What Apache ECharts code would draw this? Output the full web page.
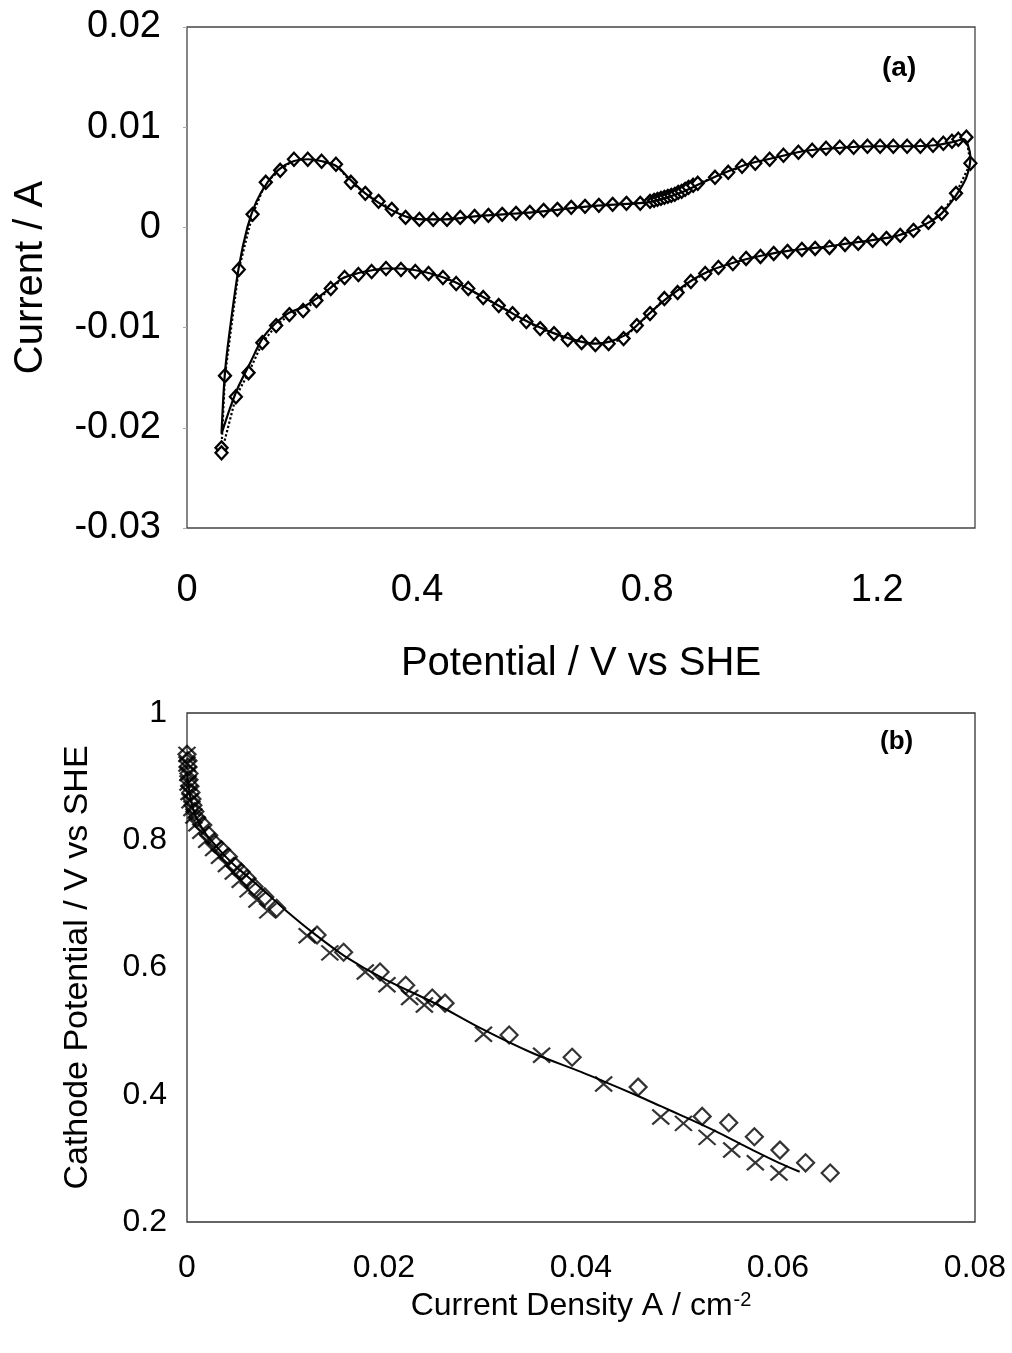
<!DOCTYPE html>
<html>
<head>
<meta charset="utf-8">
<script src="https://cdn.jsdelivr.net/npm/echarts@6/dist/echarts.min.js"></script>
<style>
html,body{margin:0;padding:0;background:#fff;}
#chart{width:1012px;height:1353px;}
</style>
</head>
<body>
<div id="chart"></div>
<script>
// ---------- Panel (a): cyclic voltammogram ----------
// Experimental points (diamonds, dotted line): [potential V, current A]
const cvExpPotential = [0.060,0.066,0.090,0.114,0.137,0.162,0.186,0.210,0.234,0.259,0.285,0.310,0.333,0.356,0.380,0.404,0.428,0.452,0.475,0.500,0.524,0.548,0.572,0.596,0.620,0.644,0.668,0.692,0.716,0.740,0.764,0.788,0.805,0.812,0.818,0.824,0.830,0.836,0.842,0.848,0.854,0.860,0.866,0.872,0.880,0.888,0.918,0.941,0.965,0.988,1.013,1.037,1.063,1.087,1.111,1.135,1.159,1.183,1.205,1.228,1.252,1.275,1.297,1.315,1.330,1.341,1.355,
  1.362,1.337,1.312,1.289,1.263,1.240,1.216,1.192,1.167,1.144,1.117,1.092,1.069,1.044,1.020,0.997,0.972,0.949,0.924,0.901,0.876,0.853,0.830,0.805,0.782,0.759,0.733,0.710,0.686,0.662,0.638,0.614,0.590,0.566,0.542,0.515,0.489,0.468,0.445,0.420,0.397,0.372,0.346,0.321,0.298,0.274,0.250,0.225,0.202,0.178,0.155,0.131,0.107,0.085,0.060];
const cvExpCurrent = [-0.0220,-0.0148,-0.0042,0.0013,0.0045,0.0057,0.0068,0.0068,0.0066,0.0063,0.0045,0.0034,0.0026,0.0018,0.0010,0.0008,0.0008,0.0008,0.0010,0.0011,0.0012,0.0013,0.0014,0.0015,0.0017,0.0018,0.0020,0.0021,0.0022,0.0023,0.0024,0.0024,0.0026,0.0027,0.0028,0.0029,0.0030,0.0031,0.0032,0.0033,0.0035,0.0036,0.0038,0.0040,0.0042,0.0044,0.0050,0.0055,0.0061,0.0064,0.0068,0.0072,0.0075,0.0077,0.0079,0.0080,0.0080,0.0081,0.0081,0.0081,0.0081,0.0081,0.0082,0.0084,0.0086,0.0088,0.0090,
  0.0064,0.0034,0.0014,0.0005,-0.0003,-0.0008,-0.0011,-0.0013,-0.0016,-0.0017,-0.0020,-0.0021,-0.0022,-0.0024,-0.0026,-0.0029,-0.0031,-0.0036,-0.0040,-0.0046,-0.0054,-0.0065,-0.0071,-0.0086,-0.0098,-0.0111,-0.0116,-0.0117,-0.0115,-0.0112,-0.0106,-0.0101,-0.0094,-0.0086,-0.0078,-0.0070,-0.0061,-0.0056,-0.0050,-0.0046,-0.0044,-0.0042,-0.0041,-0.0044,-0.0047,-0.0050,-0.0061,-0.0073,-0.0083,-0.0087,-0.0098,-0.0115,-0.0145,-0.0169,-0.0225];
// Model curve (solid line)
const cvModelPotential = [0.060,0.066,0.075,0.090,0.105,0.120,0.140,0.160,0.185,0.210,0.235,0.260,0.285,0.310,0.335,0.360,0.385,0.410,0.450,0.500,0.550,0.600,0.650,0.700,0.750,0.800,0.830,0.860,0.890,0.920,0.950,0.980,1.010,1.040,1.070,1.100,1.150,1.200,1.250,1.300,1.330,1.350,1.362,1.355,1.337,1.312,1.290,1.260,1.230,1.200,1.150,1.100,1.050,1.000,0.970,0.940,0.910,0.880,0.850,0.825,0.800,0.780,0.760,0.735,0.710,0.685,0.660,0.635,0.610,0.585,0.560,0.535,0.510,0.485,0.460,0.430,0.400,0.370,0.345,0.320,0.295,0.270,0.250,0.225,0.200,0.175,0.150,0.130,0.110,0.090,0.075,0.060];
const cvModelCurrent = [-0.0206,-0.0145,-0.0100,-0.0040,0.0000,0.0025,0.0045,0.0058,0.0066,0.0068,0.0066,0.0061,0.0047,0.0034,0.0024,0.0016,0.0010,0.0008,0.0008,0.0011,0.0013,0.0015,0.0018,0.0021,0.0023,0.0025,0.0029,0.0035,0.0043,0.0051,0.0058,0.0064,0.0068,0.0072,0.0076,0.0078,0.0080,0.0081,0.0081,0.0082,0.0085,0.0088,0.0070,0.0050,0.0032,0.0014,0.0005,-0.0003,-0.0009,-0.0012,-0.0016,-0.0020,-0.0023,-0.0028,-0.0032,-0.0037,-0.0043,-0.0052,-0.0064,-0.0075,-0.0088,-0.0099,-0.0108,-0.0114,-0.0116,-0.0114,-0.0110,-0.0105,-0.0099,-0.0092,-0.0084,-0.0076,-0.0068,-0.0060,-0.0053,-0.0047,-0.0043,-0.0041,-0.0041,-0.0043,-0.0046,-0.0051,-0.0060,-0.0071,-0.0080,-0.0086,-0.0098,-0.0112,-0.0135,-0.0158,-0.0180,-0.0206];
const cvXTicks = [0, 0.4, 0.8, 1.2];
const cvYTicks = [-0.03, -0.02, -0.01, 0, 0.01, 0.02];

// ---------- Panel (b): polarisation curve ----------
const polDiamondJ = [0.0000,0.0001,0.0001,0.0002,0.0002,0.0003,0.0004,0.0005,0.0006,0.0008,0.0010,0.0016,0.0022,0.0028,0.0035,0.0042,0.0049,0.0055,0.0061,0.0068,0.0079,0.0091,0.0132,0.0159,0.0196,0.0222,0.0249,0.0262,0.0327,0.0391,0.0458,0.0523,0.0550,0.0576,0.0602,0.0628,0.0653];
const polDiamondE = [0.935,0.925,0.915,0.905,0.895,0.885,0.875,0.865,0.855,0.845,0.835,0.824,0.808,0.795,0.785,0.774,0.759,0.750,0.740,0.727,0.711,0.693,0.651,0.624,0.593,0.572,0.552,0.544,0.494,0.459,0.412,0.366,0.356,0.334,0.313,0.293,0.277];
const polCrossJ = [0.0000,0.0000,0.0001,0.0001,0.0002,0.0003,0.0005,0.0007,0.0010,0.0014,0.0020,0.0027,0.0033,0.0040,0.0047,0.0054,0.0062,0.0071,0.0082,0.0122,0.0145,0.0181,0.0203,0.0226,0.0241,0.0301,0.0360,0.0423,0.0481,0.0504,0.0528,0.0553,0.0577,0.0601];
const polCrossE = [0.935,0.920,0.905,0.890,0.875,0.862,0.850,0.838,0.826,0.814,0.800,0.787,0.775,0.762,0.750,0.737,0.722,0.706,0.689,0.650,0.623,0.593,0.573,0.553,0.541,0.495,0.462,0.417,0.365,0.355,0.333,0.313,0.293,0.277];
const polModelJ = [0.0000,0.0003,0.0007,0.0012,0.0020,0.0030,0.0040,0.0050,0.0060,0.0080,0.0100,0.0130,0.0160,0.0200,0.0250,0.0300,0.0350,0.0400,0.0423,0.0458,0.0481,0.0504,0.0528,0.0553,0.0577,0.0601,0.0622];
const polModelE = [0.905,0.870,0.845,0.828,0.808,0.790,0.773,0.758,0.745,0.718,0.690,0.652,0.618,0.582,0.545,0.503,0.466,0.436,0.421,0.398,0.382,0.366,0.349,0.330,0.311,0.293,0.279];
const polXTicks = [0, 0.02, 0.04, 0.06, 0.08];
const polYTicks = [0.2, 0.4, 0.6, 0.8, 1];

function zip(a, b) { return a.map((v, i) => [v, b[i]]); }
function onTicks(ticks) {
  return function (v) {
    for (const t of ticks) if (Math.abs(v - t) < 1e-9) return String(t);
    return '';
  };
}

const FONT = "'Liberation Sans', Arial, Helvetica, sans-serif";
const chart = echarts.init(document.getElementById('chart'), null, {renderer: 'canvas'});

const option = {
  backgroundColor: '#ffffff',
  animation: false,
  textStyle: {fontFamily: FONT, color: '#000'},
  title: [
    {text: '(a)', left: 882, top: 54, padding: 0,
     textStyle: {fontFamily: FONT, fontSize: 28, fontWeight: 'bold', color: '#000'}},
    {text: '(b)', left: 880, top: 729, padding: 0,
     textStyle: {fontFamily: FONT, fontSize: 26, fontWeight: 'bold', color: '#000'}}
  ],
  grid: [
    {left: 187, top: 27, width: 788, height: 501, show: true, borderColor: '#444', borderWidth: 1.3, backgroundColor: 'transparent'},
    {left: 187, top: 713, width: 788, height: 509, show: true, borderColor: '#333', borderWidth: 1.3, backgroundColor: 'transparent'}
  ],
  xAxis: [
    {gridIndex: 0, type: 'value', min: 0, max: 1.37, interval: 0.4,
     axisLine: {show: false}, splitLine: {show: false},
     axisTick: {show: false},
     axisLabel: {fontSize: 38, fontFamily: FONT, color: '#000', margin: 44, showMaxLabel: false, formatter: onTicks(cvXTicks)},
     name: 'Potential / V vs SHE', nameLocation: 'middle', nameGap: 116,
     nameTextStyle: {fontSize: 40, fontFamily: FONT, color: '#000'}},
    {gridIndex: 1, type: 'value', min: 0, max: 0.08, interval: 0.02,
     axisLine: {show: false}, splitLine: {show: false},
     axisTick: {show: false},
     axisLabel: {fontSize: 32, fontFamily: FONT, color: '#000', margin: 30, formatter: onTicks(polXTicks)},
     name: 'Current Density A / cm{sup|-2}', nameLocation: 'middle', nameGap: 68,
     nameTextStyle: {fontSize: 32, fontFamily: FONT, color: '#000',
       rich: {sup: {fontSize: 20, fontFamily: FONT, color: '#000', verticalAlign: 'top', lineHeight: 20, padding: [0, 0, 14, 1]}}}}
  ],
  yAxis: [
    {gridIndex: 0, type: 'value', min: -0.03, max: 0.02, interval: 0.01,
     axisLine: {show: false}, splitLine: {show: false},
     axisTick: {show: true, inside: false, length: 4, lineStyle: {color: '#aaa', width: 1}},
     axisLabel: {fontSize: 38, fontFamily: FONT, color: '#000', margin: 26, formatter: onTicks(cvYTicks)},
     name: 'Current / A', nameLocation: 'middle', nameGap: 136,
     nameTextStyle: {fontSize: 40, fontFamily: FONT, color: '#000'}},
    {gridIndex: 1, type: 'value', min: 0.2, max: 1, interval: 0.2,
     axisLine: {show: false}, splitLine: {show: false},
     axisTick: {show: false},
     axisLabel: {fontSize: 32, fontFamily: FONT, color: '#000', margin: 20, formatter: onTicks(polYTicks)},
     name: 'Cathode Potential / V vs SHE', nameLocation: 'middle', nameGap: 92,
     nameTextStyle: {fontSize: 34, fontFamily: FONT, color: '#000'}}
  ],
  series: [
    {type: 'line', xAxisIndex: 0, yAxisIndex: 0, data: zip(cvExpPotential, cvExpCurrent),
     showSymbol: true, showAllSymbol: true, symbol: 'diamond', symbolSize: [12, 13],
     itemStyle: {color: '#fff', borderColor: '#000', borderWidth: 2.3},
     lineStyle: {color: '#000', width: 2.2, type: 'dotted'}, z: 3},
    {type: 'line', xAxisIndex: 0, yAxisIndex: 0, data: zip(cvModelPotential, cvModelCurrent),
     showSymbol: false, symbol: 'none', smooth: 0.3,
     lineStyle: {color: '#000', width: 2.2}, z: 4},
    {type: 'scatter', xAxisIndex: 1, yAxisIndex: 1, data: zip(polCrossJ, polCrossE),
     symbol: 'path://M0,0L10,10M10,0L0,10', symbolSize: [17, 15],
     itemStyle: {color: 'rgba(0,0,0,0)', borderColor: '#000', borderWidth: 2.2}, z: 3},
    {type: 'scatter', xAxisIndex: 1, yAxisIndex: 1, data: zip(polDiamondJ, polDiamondE),
     symbol: 'diamond', symbolSize: [17, 17],
     itemStyle: {color: 'rgba(255,255,255,0)', borderColor: '#000', borderWidth: 2.2}, z: 3},
    {type: 'line', xAxisIndex: 1, yAxisIndex: 1, data: zip(polModelJ, polModelE),
     showSymbol: false, symbol: 'none', smooth: 0.3,
     lineStyle: {color: '#000', width: 2}, z: 4}
  ]
};
chart.setOption(option);
</script>
</body>
</html>
